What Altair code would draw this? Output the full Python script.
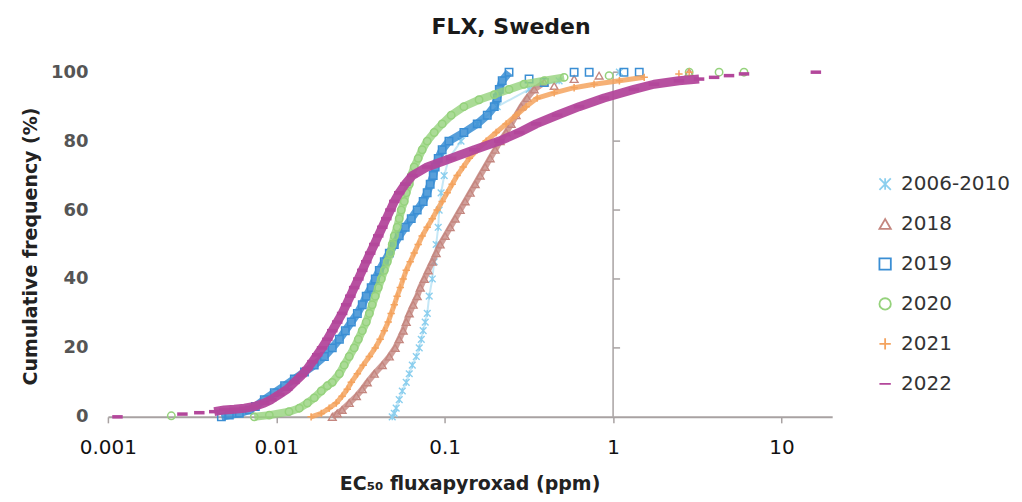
import altair as alt
import pandas as pd

# ---------------- data (EC50 in ppm, cumulative frequency in %) ----------------
SERIES = ["2006-2010", "2018", "2019", "2020", "2021", "2022"]
COLORS = ["#8CCFEE", "#C4867F", "#3A8ED4", "#95D27C", "#F4A35E", "#B3479B"]
SHAPES = [
    "M-1,-1L1,1M-1,1L1,-1M0,-1L0,1",  # asterisk
    "triangle-up",
    "square",
    "circle",
    "M-1,0L1,0M0,-1L0,1",  # plus
    "M-1,0L1,0",  # dash
]
POINT_SIZES = [45, 60, 55, 55, 55, 110]
POINT_STROKES = [1.4, 1.4, 1.5, 1.5, 1.5, 3.5]
LINE_WIDTHS = [2, 6, 8, 8, 5, 9]
LINE_OPACITY = [0.5, 0.8, 0.85, 0.8, 0.85, 0.95]

s0610_x = [0.0488, 0.0502, 0.0515, 0.0537, 0.0560, 0.0591, 0.0616, 0.0642, 0.0678, 0.0706,
           0.0726, 0.0745, 0.0766, 0.0788, 0.0809, 0.0844, 0.0866, 0.0890, 0.0915, 0.0927,
           0.0952, 0.0993, 0.106, 0.125, 0.156, 0.205, 0.317, 0.478]
s0610_y = [0, 1, 2.5, 5, 7.5, 10, 12.5, 15, 17.5, 20, 22.5, 25, 27.5, 30, 35, 40, 45, 50, 55, 60,
           65, 70, 75, 80, 85, 90, 95, 97.5]
s0610_tail_x = [1.09]
s0610_tail_y = [100]

s2018_x = [0.0215, 0.0230, 0.0246, 0.0271, 0.0299, 0.0324, 0.0347, 0.0382, 0.0426, 0.0469,
           0.0508, 0.0537, 0.0567, 0.0591, 0.0616, 0.0650, 0.0687, 0.0716, 0.0756, 0.0798,
           0.0844, 0.0890, 0.0940, 0.1007, 0.1078, 0.1154, 0.1236, 0.1323, 0.1417, 0.1517,
           0.1624, 0.1739, 0.1862, 0.1994, 0.2135, 0.2317, 0.2481, 0.2656, 0.2844, 0.3087,
           0.340, 0.390]
s2018_y = [0, 1, 2, 4, 6, 8, 10, 12.5, 15, 17.5, 20, 22.5, 25, 27.5, 30, 32.5, 35, 37.5, 40, 42.5,
           45, 47.5, 50, 52.5, 55, 57.5, 60, 62.5, 65, 67.5, 70, 72.5, 75, 77.5, 80, 82.5, 85,
           87.5, 90, 92.5, 95, 97]
s2018_tail_x = [0.447, 0.587, 0.826, 2.83]
s2018_tail_y = [96, 98, 99, 100]

s2019_x = [0.00472, 0.00526, 0.00603, 0.00691, 0.00751, 0.00849, 0.00973, 0.0112, 0.0128, 0.0147,
           0.0168, 0.0193, 0.0215, 0.0237, 0.0257, 0.0279, 0.0303, 0.0324, 0.0342, 0.0366,
           0.0387, 0.0409, 0.0438, 0.0469, 0.0502, 0.0537, 0.0583, 0.0633, 0.0687, 0.0745,
           0.0787, 0.0820, 0.0855, 0.0878, 0.0915, 0.0966, 0.106, 0.130, 0.156, 0.179,
           0.197, 0.205, 0.211, 0.2195, 0.241]
s2019_y = [0, 0.5, 1, 2, 3, 5, 7, 9, 11, 13, 15, 17.5, 20, 22.5, 25, 27.5, 30, 32.5, 35, 37.5,
           40, 42.5, 45, 47.5, 50, 52.5, 55, 57.5, 60, 62.5, 65, 67.5, 70, 72.5, 75, 77.5, 80,
           82.5, 85, 87.5, 90, 92.5, 95, 97.5, 100]
s2019_tail_x = [0.317, 0.390, 0.587, 0.721, 1.16, 1.43]
s2019_tail_y = [98, 97, 100, 100, 100, 100]

s2020_x = [0.0074, 0.00909, 0.0119, 0.0137, 0.0153, 0.0168, 0.0185, 0.0201, 0.0215, 0.0237,
           0.0253, 0.0271, 0.0290, 0.0307, 0.0324, 0.0342, 0.0357, 0.0371, 0.0387, 0.0403,
           0.0420, 0.0438, 0.0456, 0.0476, 0.0488, 0.0502, 0.0522, 0.0537, 0.0552, 0.0575,
           0.0591, 0.0616, 0.0633, 0.0659, 0.0696, 0.0735, 0.0787, 0.0866, 0.0966, 0.1093,
           0.130, 0.160, 0.197, 0.241, 0.296, 0.390, 0.512]
s2020_y = [0, 0.5, 1.5, 2.5, 4, 5.5, 7.5, 9, 10, 12.5, 15, 17.5, 20, 22.5, 25, 27.5, 30, 32.5,
           35, 37.5, 40, 42.5, 45, 47.5, 50, 52.5, 55, 57.5, 60, 62.5, 65, 67.5, 70, 72.5, 75,
           77.5, 80, 82.5, 85, 87.5, 90, 92, 93.5, 95, 96.5, 97.5, 98.5]
s2020_tail_x = [0.00238, 0.947, 2.83, 4.26, 5.99]
s2020_tail_y = [0.3, 99, 100, 100, 100]

s2021_x = [0.0161, 0.0185, 0.0206, 0.0227, 0.0246, 0.0264, 0.0279, 0.0303, 0.0328, 0.0357,
           0.0387, 0.0414, 0.0438, 0.0462, 0.0481, 0.0502, 0.0522, 0.0545, 0.0567, 0.0591,
           0.0624, 0.0659, 0.0696, 0.0735, 0.0787, 0.0844, 0.0902, 0.0966, 0.1035, 0.1108,
           0.1186, 0.1288, 0.140, 0.156, 0.1763, 0.2021, 0.2317, 0.2656, 0.3045, 0.354,
           0.447, 0.587, 0.771, 1.09, 1.53]
s2021_y = [0, 1, 2.5, 4, 6, 8, 10, 12.5, 15, 17.5, 20, 22.5, 25, 27.5, 30, 32.5, 35, 37.5, 40,
           42.5, 45, 47.5, 50, 52.5, 55, 57.5, 60, 62.5, 65, 67.5, 70, 72.5, 75, 77.5, 80, 82.5,
           85, 87.5, 90, 92.5, 94, 95.5, 96.5, 97.5, 98.5]
s2021_tail_x = [2.46, 2.83]
s2021_tail_y = [99.5, 100]

s2022_x = [0.00428, 0.00491, 0.00563, 0.00646, 0.0074, 0.00849, 0.00934, 0.0104, 0.0116, 0.0128,
           0.0141, 0.0153, 0.0164, 0.0175, 0.0187, 0.0201, 0.0215, 0.0230, 0.0246, 0.0260,
           0.0275, 0.0290, 0.0307, 0.0324, 0.0342, 0.0361, 0.0382, 0.0403, 0.0426, 0.0450,
           0.0476, 0.0502, 0.0537, 0.0583, 0.0642, 0.0787, 0.1093, 0.150, 0.211, 0.277,
           0.349, 0.465, 0.628, 0.884, 1.33, 1.75, 2.46, 3.24]
s2022_y = [1.5, 2, 2.2, 2.5, 3, 4, 5, 6.5, 8, 10, 12, 14, 16, 18, 20, 22.5, 25, 27.5, 30, 32.5,
           35, 37.5, 40, 42.5, 45, 47.5, 50, 52.5, 55, 57.5, 60, 62.5, 65, 67.5, 70, 72.5, 75,
           77.5, 80, 82.5, 85, 87.5, 90, 92.5, 95, 96.5, 97.5, 98]
s2022_tail_x = [0.00114, 0.00277, 0.00349, 3.98, 4.88, 5.99, 16.0]
s2022_tail_y = [0, 0.8, 1.2, 98.5, 99, 99.5, 100]

X_TICKS = [0.001, 0.01, 0.1, 1, 10]
Y_TICKS = [0, 20, 40, 60, 80, 100]
VLINE_X = [1]
VLINE_TICKS = [20, 40, 60, 80, 100]

FONT = "DejaVu Sans"
AXIS_GRAY = "#A8A2A2"

# ---------------- tables ----------------
BANDS = {
    "2006-2010": (s0610_x, s0610_y, s0610_tail_x, s0610_tail_y),
    "2018": (s2018_x, s2018_y, s2018_tail_x, s2018_tail_y),
    "2019": (s2019_x, s2019_y, s2019_tail_x, s2019_tail_y),
    "2020": (s2020_x, s2020_y, s2020_tail_x, s2020_tail_y),
    "2021": (s2021_x, s2021_y, s2021_tail_x, s2021_tail_y),
    "2022": (s2022_x, s2022_y, s2022_tail_x, s2022_tail_y),
}

X_SCALE = alt.Scale(type="log", domain=[0.001, 20], nice=False)
Y_SCALE = alt.Scale(domain=[0, 100], nice=False)

X_AXIS = alt.Axis(
    values=X_TICKS, format="~g", grid=False, domain=True, domainColor=AXIS_GRAY,
    domainWidth=2, ticks=True, tickColor=AXIS_GRAY, tickWidth=1.5, tickSize=6,
    labelFont=FONT, labelFontSize=20, labelColor="#111111", labelPadding=15,
    labelFlush=False, labelOverlap=False,
    title="EC\u2085\u2080 fluxapyroxad (ppm)", titleFont=FONT, titleFontSize=19,
    titleFontWeight="bold", titleColor="#222222", titleX=362, titleY=67,
    titleAlign="center", titleBaseline="middle",
)
Y_AXIS = alt.Axis(
    values=Y_TICKS, grid=False, domain=False, ticks=False, tickSize=0,
    labelFont=FONT, labelFontSize=18, labelFontWeight="bold", labelColor="#555555",
    labelPadding=20, labelFlush=False, labelOverlap=False,
    title="Cumulative frequency (%)", titleFont=FONT, titleFontSize=19,
    titleFontWeight="bold", titleColor="#222222", titleAngle=-90,
    titleX=-77, titleY=174, titleAlign="center", titleBaseline="middle",
)
COLOR_SCALE = alt.Scale(domain=SERIES, range=COLORS)
SHAPE_SCALE = alt.Scale(domain=SERIES, range=SHAPES)
LEGEND = alt.Legend(
    orient="none", legendX=768, legendY=102, title=None, labelFont=FONT,
    labelFontSize=20, labelColor="#333333", symbolSize=130, symbolStrokeWidth=1.8,
    symbolOpacity=1, rowPadding=20, labelOffset=6, padding=0,
)

layers = []

vline_df = pd.DataFrame({"x": VLINE_X, "y0": [0], "y1": [100]})
layers.append(
    alt.Chart(vline_df).mark_rule(color=AXIS_GRAY, strokeWidth=1.5).encode(
        x=alt.X("x:Q", scale=X_SCALE, axis=X_AXIS),
        y=alt.Y("y0:Q", scale=Y_SCALE, axis=Y_AXIS),
        y2="y1:Q",
    )
)
vt_df = pd.DataFrame({"x": VLINE_X * len(VLINE_TICKS), "y": VLINE_TICKS})
layers.append(
    alt.Chart(vt_df).mark_point(shape="M0,0L1,0", size=196, filled=False, opacity=1,
                                strokeWidth=1.5, color=AXIS_GRAY).encode(
        x=alt.X("x:Q", scale=X_SCALE, axis=X_AXIS),
        y=alt.Y("y:Q", scale=Y_SCALE, axis=Y_AXIS),
    )
)

for i, name in enumerate(SERIES):
    bx, by, tx, ty = BANDS[name]
    band = pd.DataFrame({"series": name, "ec50": bx, "cum": by, "order": range(len(bx))})
    pts = pd.DataFrame({"series": name, "ec50": list(bx) + list(tx), "cum": list(by) + list(ty)})
    layers.append(
        alt.Chart(band).mark_line(color=COLORS[i], strokeWidth=LINE_WIDTHS[i],
                                  opacity=LINE_OPACITY[i], strokeJoin="round").encode(
            x=alt.X("ec50:Q", scale=X_SCALE, axis=X_AXIS),
            y=alt.Y("cum:Q", scale=Y_SCALE, axis=Y_AXIS),
            order="order:Q",
        )
    )
    layers.append(
        alt.Chart(pts).mark_point(filled=False, opacity=1, size=POINT_SIZES[i],
                                  strokeWidth=POINT_STROKES[i]).encode(
            x=alt.X("ec50:Q", scale=X_SCALE, axis=X_AXIS),
            y=alt.Y("cum:Q", scale=Y_SCALE, axis=Y_AXIS),
            color=alt.Color("series:N", scale=COLOR_SCALE, legend=LEGEND),
            shape=alt.Shape("series:N", scale=SHAPE_SCALE, legend=LEGEND),
        )
    )

chart = alt.layer(*layers).properties(
    width=725,
    height=345,
    padding={"left": 100, "top": 64, "right": 182, "bottom": 79},
    autosize=alt.AutoSizeParams(type="none"),
    title=alt.TitleParams(
        "FLX, Sweden", font=FONT, fontSize=22, fontWeight="bold", color="#1A1A1A",
        anchor="middle", dx=41, offset=24,
    ),
).configure_view(strokeWidth=0)

chart.save("out.html", embed_options={"renderer": "svg", "actions": False})
